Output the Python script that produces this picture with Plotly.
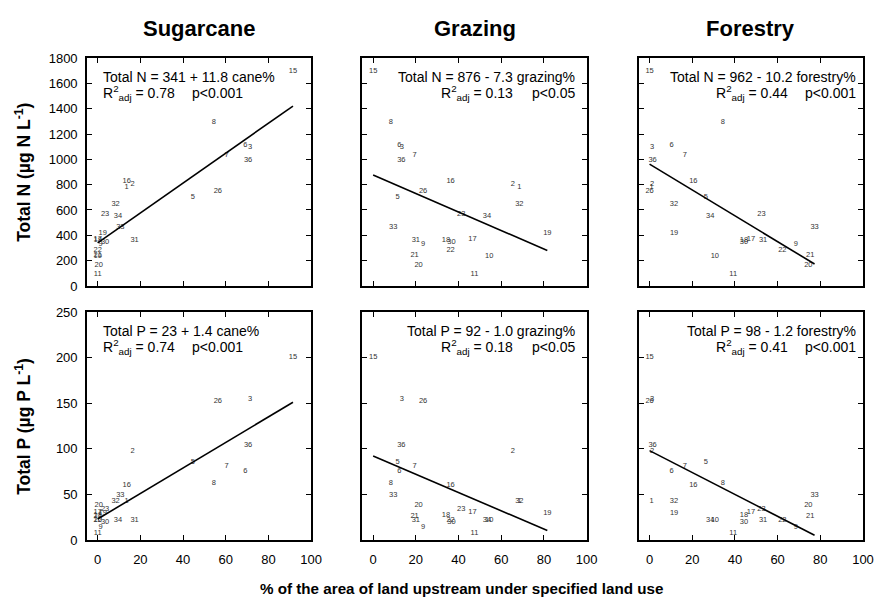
import plotly.graph_objects as go

# Site numbers and upstream land use (% of catchment area)
site = [1, 2, 3, 5, 6, 7, 8, 9, 10, 11, 15, 16, 17, 18, 19, 20, 21, 22, 23, 26, 30, 31, 32, 33, 34, 36]
cane = [13.6, 16.4, 71.4, 44.6, 69.2, 60.4, 54.4, 1.4, 0, 0, 91.5, 13.6, 0, 0, 2.4, 0.5, 0, 0, 3.5, 56.3, 3.5, 17.3, 8.4, 10.6, 9.5, 70.5]
grazing = [68.5, 65.4, 13.5, 11.4, 12.3, 19.4, 8.3, 23.4, 54.4, 47.5, 0, 36.3, 46.5, 34.1, 81.6, 21.3, 19.4, 36.3, 41.3, 23.4, 36.7, 20.0, 68.5, 9.4, 53.3, 13.2]
forestry = [1.0, 1.2, 1.2, 26.4, 10.3, 16.5, 34.3, 68.5, 30.6, 39.2, 0, 20.5, 47.5, 44.2, 11.5, 74.4, 75.3, 62.2, 52.4, 0, 44.2, 53.2, 11.4, 77.3, 28.4, 1.4]

# Nutrient concentrations (ug/L)
total_n = [780, 805, 1095, 705, 1115, 1030, 1290, 330, 235, 95, 1700, 830, 370, 365, 420, 165, 245, 280, 565, 750, 350, 360, 650, 465, 550, 990]
total_p = [43, 97, 155, 85, 75, 81, 62, 14, 22, 8, 200, 60, 31, 27, 29.5, 38, 26.5, 21.5, 34, 152, 20, 21.5, 43, 49, 22, 104]

# Column headings and land-use names used in the equations
land_uses = ["Sugarcane", "Grazing", "Forestry"]
eq_names = ["cane%", "grazing%", "forestry%"]

# Linear regression results
n_intercept = [341, 876, 962]
n_slope = [11.8, -7.3, -10.2]
n_r2 = ["0.78", "0.13", "0.44"]
n_sig = ["p<0.001", "p<0.05", "p<0.001"]
p_intercept = [23, 92, 98]
p_slope = [1.4, -1.0, -1.2]
p_r2 = ["0.74", "0.18", "0.41"]
p_sig = ["p<0.001", "p<0.05", "p<0.001"]

# Axis ticks
x_ticks = [0, 20, 40, 60, 80, 100]
n_ticks = list(range(0, 1801, 200))
p_ticks = list(range(0, 251, 50))

FONT = "Arial, Liberation Sans, sans-serif"
x_domains = [[0.0, 0.2888], [0.3550, 0.6438], [0.7112, 1.0]]
y_domains = [[0.527, 1.0], [0.0, 0.473]]

fig = go.Figure()
land_pct = [cane, grazing, forestry]


def fmt(v):
    return f"{abs(v):.1f}"


annotations = []
for row, (conc, icpt, slope, r2, sig, nutr, ticks, yr) in enumerate([
    (total_n, n_intercept, n_slope, n_r2, n_sig, "N", n_ticks, [0, 1800]),
    (total_p, p_intercept, p_slope, p_r2, p_sig, "P", p_ticks, [0, 250]),
]):
    for col in range(3):
        idx = row * 3 + col + 1
        xa = "x" if idx == 1 else f"x{idx}"
        ya = "y" if idx == 1 else f"y{idx}"
        xs = land_pct[col]

        # site numbers plotted as labels
        fig.add_trace(go.Scatter(
            x=xs, y=conc, mode="text", text=[str(s) for s in site],
            textfont=dict(family=FONT, size=7.5, color="#333"),
            textposition="middle center", xaxis=xa, yaxis=ya,
            showlegend=False, hoverinfo="skip"))

        # fitted regression line over the observed range
        x_end = max(xs)
        fig.add_trace(go.Scatter(
            x=[0, x_end], y=[icpt[col], icpt[col] + slope[col] * x_end],
            mode="lines", line=dict(color="black", width=1.6),
            xaxis=xa, yaxis=ya, showlegend=False, hoverinfo="skip"))

        axis_common = dict(showline=True, linecolor="black", linewidth=1.6, mirror="ticks",
                           ticks="inside", ticklen=5, tickwidth=1, tickcolor="black",
                           showgrid=False, zeroline=False,
                           tickfont=dict(family=FONT, size=13, color="black"))
        fig.layout[f"xaxis{'' if idx == 1 else idx}"] = dict(
            domain=x_domains[col], anchor=ya, range=[-5, 100], tickvals=x_ticks,
            showticklabels=(row == 1), ticklabelstandoff=7, **axis_common)
        fig.layout[f"yaxis{'' if idx == 1 else idx}"] = dict(
            domain=y_domains[row], anchor=xa, range=yr, tickvals=ticks,
            showticklabels=(col == 0), ticklabelstandoff=5, **axis_common)

        sign = "+" if slope[col] >= 0 else "-"
        eq = f"Total {nutr} = {icpt[col]} {sign} {fmt(slope[col])} {eq_names[col]}"
        r2_txt = f"R<sup>2</sup><sub>adj</sub> = {r2[col]}"
        sig_txt = sig[col].replace("<", "&lt;")
        xref = f"{xa} domain"
        yref = f"{ya} domain"
        tf = dict(family=FONT, size=14, color="black")
        if col == 0:
            annotations += [
                dict(text=eq, x=0.062, y=0.915, xanchor="left", yanchor="middle"),
                dict(text=r2_txt, x=0.062, y=0.845, xanchor="left", yanchor="middle"),
                dict(text=sig_txt, x=0.461, y=0.845, xanchor="left", yanchor="middle"),
            ]
        else:
            right = 0.955 if col == 1 else 0.976
            r2_right = 0.682 if col == 1 else 0.675
            annotations += [
                dict(text=eq, x=right, y=0.915, xanchor="right", yanchor="middle"),
                dict(text=r2_txt, x=r2_right, y=0.845, xanchor="right", yanchor="middle"),
                dict(text=sig_txt, x=right, y=0.845, xanchor="right", yanchor="middle"),
            ]
        for a in annotations[-3:]:
            a.update(xref=xref, yref=yref, showarrow=False, font=tf)

# column headings
for col, name in enumerate(land_uses):
    annotations.append(dict(
        text=f"<b>{name}</b>", x=sum(x_domains[col]) / 2, y=1.062, xref="paper", yref="paper",
        xanchor="center", yanchor="middle", showarrow=False,
        font=dict(family=FONT, size=22, color="black")))

# axis titles
annotations.append(dict(
    text="<b>Total N (\u00b5g N L<sup>-1</sup>)</b>", x=-0.0827, y=sum(y_domains[0]) / 2,
    xref="paper", yref="paper", textangle=-90, xanchor="center", yanchor="middle",
    showarrow=False, font=dict(family=FONT, size=17.5, color="black")))
annotations.append(dict(
    text="<b>Total P (\u00b5g P L<sup>-1</sup>)</b>", x=-0.0827, y=sum(y_domains[1]) / 2,
    xref="paper", yref="paper", textangle=-90, xanchor="center", yanchor="middle",
    showarrow=False, font=dict(family=FONT, size=17.5, color="black")))
annotations.append(dict(
    text="<b>% of the area of land upstream under specified land use</b>", x=0.482, y=-0.0996,
    xref="paper", yref="paper", xanchor="center", yanchor="middle",
    showarrow=False, font=dict(family=FONT, size=15.2, color="black")))

fig.update_layout(
    width=886, height=601,
    margin=dict(l=87, r=13, t=58, b=61),
    paper_bgcolor="white", plot_bgcolor="white",
    annotations=annotations,
    showlegend=False,
)

fig.write_html("out.html")
